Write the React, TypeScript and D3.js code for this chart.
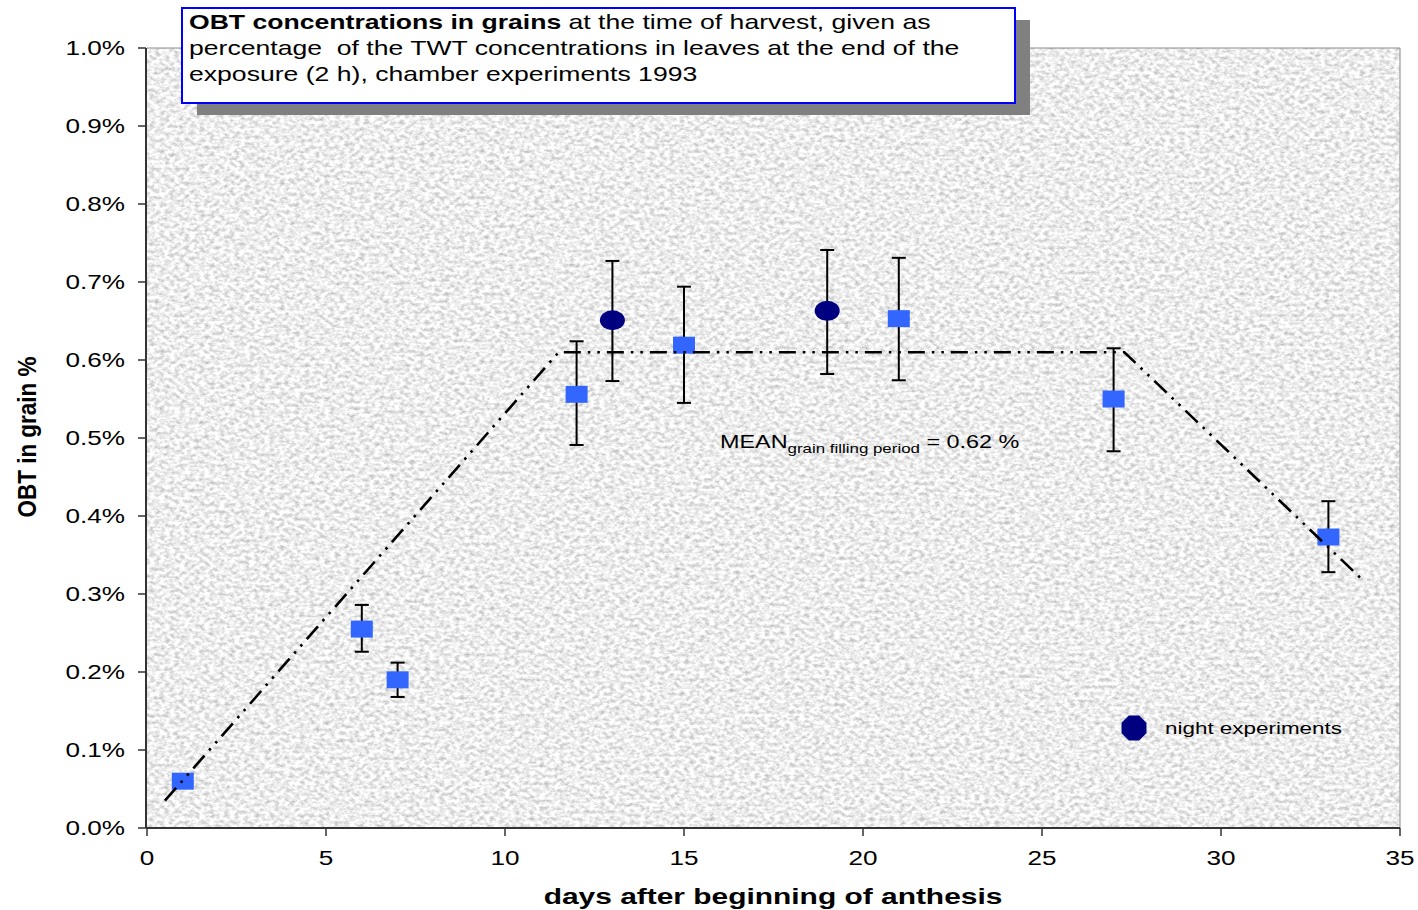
import React from "react";
import * as d3 from "d3";

// Grain OBT as % of leaf TWT, by days after beginning of anthesis
const dayDays = [1, 6, 7, 12, 15, 21, 27, 33];
const dayValues = [0.06, 0.255, 0.19, 0.556, 0.619, 0.653, 0.55, 0.373];
const dayErrLow = [null, 0.226, 0.168, 0.491, 0.545, 0.574, 0.483, 0.328];
const dayErrHigh = [null, 0.286, 0.212, 0.624, 0.694, 0.731, 0.615, 0.419];

const nightDays = [13, 19];
const nightValues = [0.651, 0.663];
const nightErrLow = [0.573, 0.582];
const nightErrHigh = [0.727, 0.741];

// Piecewise trend: rise, grain filling plateau, decline
const trendDays = [0.5, 11.5, 27.3, 34];
const trendValues = [0.035, 0.61, 0.61, 0.316];

const xTicks = [0, 5, 10, 15, 20, 25, 30, 35];
const yTicks = [0, 0.1, 0.2, 0.3, 0.4, 0.5, 0.6, 0.7, 0.8, 0.9, 1.0];
const yTickLabels = ["0.0%", "0.1%", "0.2%", "0.3%", "0.4%", "0.5%", "0.6%", "0.7%", "0.8%", "0.9%", "1.0%"];

const titleLines = [
  { bold: "OBT concentrations in grains", rest: " at the time of harvest, given as" },
  { bold: "", rest: "percentage\u00a0 of the TWT concentrations in leaves at the end of the" },
  { bold: "", rest: "exposure (2 h), chamber experiments 1993" },
];

const FONT = "'Liberation Sans', Arial, Helvetica, sans-serif";
const SX = 1.34;

export default function App() {
  const W = 1418;
  const H = 910;
  const left = 147, right = 1400, top = 48, bottom = 828;

  const x = d3.scaleLinear().domain([0, 35]).range([left, right]);
  const y = d3.scaleLinear().domain([0, 1.0]).range([bottom, top]);

  const trendLine = d3
    .line<number>()
    .x((_, i) => x(trendDays[i]))
    .y((d) => y(d))(trendValues) as string;

  const sqW = 22, sqH = 17, cap = 7;

  const errBar = (xd: number, lo: number | null, hi: number | null, key: string) =>
    lo == null || hi == null ? null : (
      <g key={key} stroke="#000" strokeWidth={2}>
        <line x1={x(xd)} x2={x(xd)} y1={y(lo)} y2={y(hi)} />
        <line x1={x(xd) - cap} x2={x(xd) + cap} y1={y(lo)} y2={y(lo)} />
        <line x1={x(xd) - cap} x2={x(xd) + cap} y1={y(hi)} y2={y(hi)} />
      </g>
    );

  // Legend octagon marker
  const legendCx = 1134, legendCy = 728, legendR = 13.5;
  const octagon = d3
    .range(8)
    .map((i) => {
      const a = Math.PI / 8 + (i * Math.PI) / 4;
      return `${legendCx + legendR * Math.cos(a)},${legendCy + legendR * Math.sin(a)}`;
    })
    .join(" ");

  return (
    <svg
      width={W}
      height={H}
      style={{ position: "absolute", left: 0, top: 0, background: "#fff" }}
      fontFamily={FONT}
    >
      <defs>
        <filter id="grain" x="0" y="0" width="100%" height="100%" colorInterpolationFilters="sRGB">
          <feTurbulence type="fractalNoise" baseFrequency="0.2 0.28" numOctaves={3} seed={7} result="n" />
          <feColorMatrix
            in="n"
            type="matrix"
            values="0.5 0 0 0 0.68  0.5 0 0 0 0.68  0.5 0 0 0 0.68  0 0 0 0 1"
          />
        </filter>
      </defs>

      {/* plot area */}
      <rect x={left} y={top} width={right - left} height={bottom - top} fill="#ececec" />
      <rect x={left} y={top} width={right - left} height={bottom - top} filter="url(#grain)" />
      <line x1={left} x2={right} y1={top} y2={top} stroke="#8a8a8a" strokeWidth={1} />
      <line x1={right} x2={right} y1={top} y2={bottom} stroke="#8a8a8a" strokeWidth={1} />

      {/* axes */}
      <line x1={left - 1} x2={left - 1} y1={top} y2={bottom} stroke="#333" strokeWidth={2} />
      <line x1={left - 1} x2={right} y1={bottom} y2={bottom} stroke="#333" strokeWidth={2} />
      {yTicks.map((t, i) => (
        <g key={"yt" + i}>
          <line x1={left - 9} x2={left - 1} y1={y(t)} y2={y(t)} stroke="#333" strokeWidth={1.5} />
          <text
            transform={`translate(125,${y(t) + 7}) scale(${SX},1)`}
            textAnchor="end"
            fontSize={19.5}
            fill="#000"
          >
            {yTickLabels[i]}
          </text>
        </g>
      ))}
      {xTicks.map((t) => (
        <g key={"xt" + t}>
          <line x1={x(t)} x2={x(t)} y1={bottom} y2={bottom + 8} stroke="#333" strokeWidth={1.5} />
          <text
            transform={`translate(${x(t)},865) scale(${SX},1)`}
            textAnchor="middle"
            fontSize={19.5}
            fill="#000"
          >
            {t}
          </text>
        </g>
      ))}

      {/* axis titles */}
      <text
        transform={`translate(773,904) scale(1.36,1)`}
        textAnchor="middle"
        fontSize={22}
        fontWeight="bold"
        fill="#000"
      >
        days after beginning of anthesis
      </text>
      <text
        transform={`translate(36,437) scale(1.2,1) rotate(-90)`}
        textAnchor="middle"
        fontSize={21}
        fontWeight="bold"
        fill="#000"
        textLength={161}
        lengthAdjust="spacingAndGlyphs"
      >
        OBT in grain %
      </text>

      {/* error bars */}
      {dayDays.map((d, i) => errBar(d, dayErrLow[i], dayErrHigh[i], "de" + i))}
      {nightDays.map((d, i) => errBar(d, nightErrLow[i], nightErrHigh[i], "ne" + i))}

      {/* markers */}
      {dayDays.map((d, i) => (
        <rect
          key={"sq" + i}
          x={x(d) - sqW / 2}
          y={y(dayValues[i]) - sqH / 2}
          width={sqW}
          height={sqH}
          fill="#3366FF"
        />
      ))}
      {nightDays.map((d, i) => (
        <ellipse key={"el" + i} cx={x(d)} cy={y(nightValues[i])} rx={12.5} ry={10} fill="#000080" />
      ))}

      {/* trend line */}
      <path
        d={trendLine}
        fill="none"
        stroke="#000"
        strokeWidth={2.6}
        strokeDasharray="17 7 2.5 7 2.5 7"
      />

      {/* mean annotation */}
      <text transform={`translate(720,448) scale(1.3,1)`} fontSize={18} fill="#000">
        MEAN
        <tspan fontSize={13} dy={5}>grain filling period</tspan>
        <tspan fontSize={18} dy={-5}> = 0.62 %</tspan>
      </text>

      {/* legend */}
      <polygon points={octagon} fill="#000080" />
      <text transform={`translate(1165,734) scale(1.32,1)`} fontSize={17} fill="#000">
        night experiments
      </text>

      {/* title box */}
      <rect x={197} y={20} width={833} height={95} fill="#808080" />
      <rect x={182} y={8} width={833} height={95} fill="#fff" stroke="#0000FF" strokeWidth={2} />
      {titleLines.map((l, i) => (
        <text
          key={"tl" + i}
          transform={`translate(189,${29 + i * 26}) scale(1.33,1)`}
          fontSize={20}
          fill="#000"
        >
          {l.bold ? <tspan fontWeight="bold">{l.bold}</tspan> : null}
          <tspan>{l.rest}</tspan>
        </text>
      ))}
    </svg>
  );
}
